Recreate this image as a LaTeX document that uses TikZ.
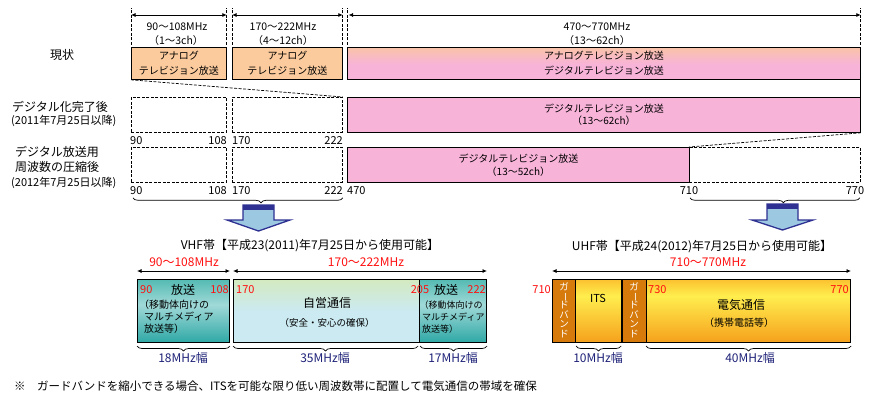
\documentclass[tikz,border=0pt]{standalone}
\usepackage{fontspec}
\setmainfont{Noto Sans CJK JP}
\usepackage{graphicx}
\usetikzlibrary{arrows.meta,decorations.pathreplacing}
\newcommand{\fz}[2]{\fontsize{#1}{#2}\selectfont}
\definecolor{peach}{HTML}{FBCB9D}
\definecolor{pinkc}{HTML}{F8B3D9}
\definecolor{peachtop}{HTML}{F9C3A8}
\definecolor{tealtop}{HTML}{55BBB3}
\definecolor{teallight}{HTML}{A0D9D8}
\definecolor{tealbot}{HTML}{2EA8A5}
\definecolor{grntop}{HTML}{D3EAC0}
\definecolor{cyanc}{HTML}{CBEAF1}
\definecolor{guard}{HTML}{D67A0C}
\definecolor{yortop}{HTML}{FBC230}
\definecolor{yl}{HTML}{FFEE4E}
\definecolor{orbot}{HTML}{F6A01C}
\definecolor{navy}{HTML}{2E3192}
\definecolor{lblue}{HTML}{9DC8E2}
\definecolor{txtnavy}{HTML}{1E2278}
\definecolor{redc}{HTML}{FF1010}
\pgfdeclareverticalshading{pinkshade}{100bp}{color(0bp)=(pinkc); color(25bp)=(pinkc); color(48bp)=(pinkc); color(75bp)=(peachtop); color(100bp)=(peachtop)}
\pgfdeclareverticalshading{tealshade}{100bp}{color(0bp)=(tealbot); color(25bp)=(tealbot); color(55bp)=(teallight); color(75bp)=(tealtop); color(100bp)=(tealtop)}
\pgfdeclareverticalshading{grnshade}{100bp}{color(0bp)=(cyanc); color(25bp)=(cyanc); color(50bp)=(cyanc); color(75bp)=(grntop); color(100bp)=(grntop)}
\pgfdeclareverticalshading{yelshade}{100bp}{color(0bp)=(orbot); color(25bp)=(orbot); color(62bp)=(yl); color(75bp)=(yortop); color(100bp)=(yortop)}
\begin{document}
\begin{tikzpicture}[x=1pt,y=-1pt,
  box/.style={draw=black, line width=0.8pt, inner sep=0pt, anchor=north west, align=center},
  dbox/.style={box, dash pattern=on 3pt off 1.5pt},
  bbox/.style={draw=black, line width=1pt, inner sep=0pt, anchor=north west},
  lbl/.style={inner sep=0pt, align=center},
  num/.style={inner sep=0pt, font=\fz{11}{13}},
  rtext/.style={inner sep=0pt, text=redc},
  ntext/.style={inner sep=0pt, text=txtnavy, font=\fz{12}{14}},
  dim/.style={line width=0.8pt, {Latex[length=4.5pt,width=4pt]}-{Latex[length=4.5pt,width=4pt]}},
  dline/.style={line width=0.7pt, dash pattern=on 3pt off 1.5pt},
  brc/.style={line width=0.7pt, decorate, decoration={brace, amplitude=5pt, #1}},
  brc/.default={aspect=0.5},
  bigarrow/.style={fill=lblue, draw=navy, line width=1.3pt, line join=miter},
  gtext/.style={inner sep=0pt, text=white, align=center, font=\fz{9.5}{9.4}, anchor=north}
  ]
\useasboundingbox (0,0) rectangle (875,404);
\fill[white] (0,0) rectangle (875,404);

% ---------- left labels ----------
\node[lbl, font=\fz{12}{14}] (lab1) at (62,55) {現状};
\node[lbl, font=\fz{12}{14}, anchor=west] (lab2) at (12,107) {デジタル化完了後};
\node[lbl, font=\fz{11}{13}, anchor=west] (lab2b) at (11,121) {(2011年7月25日以降)};
\node[lbl, font=\fz{12}{14}, anchor=west] (lab3) at (15,152) {デジタル放送用};
\node[lbl, font=\fz{12}{14}, anchor=west] (lab3b) at (15,167) {周波数の圧縮後};
\node[lbl, font=\fz{11}{13}, anchor=west] (lab3c) at (11,183) {(2012年7月25日以降)};

% ---------- row 1 ----------
\node[box, fill=peach, minimum width=95, minimum height=32, font=\fz{10}{14.5}] (b1) at (131,47) {アナログ\\テレビジョン放送};
\node[box, fill=peach, minimum width=110, minimum height=32, font=\fz{10}{14.5}] (b2) at (232,47) {アナログ\\テレビジョン放送};
\node[box, shade, shading=pinkshade, minimum width=513, minimum height=32, font=\fz{10}{15}] (b3) at (347,47) {アナログテレビジョン放送\\デジタルテレビジョン放送};

% ---------- row 2 ----------
\node[dbox, minimum width=95, minimum height=35] (d1) at (131,97) {};
\node[dbox, minimum width=110, minimum height=35] (d2) at (232,97) {};
\node[box, fill=pinkc, minimum width=513, minimum height=35, font=\fz{10}{12.5}] (p2) at (347,97) {デジタルテレビジョン放送\\（13～62ch）};

% ---------- row 3 ----------
\node[dbox, minimum width=95, minimum height=35] (d3) at (131,147) {};
\node[dbox, minimum width=110, minimum height=35] (d4) at (232,147) {};
\node[dbox, minimum width=171, minimum height=35] (e3) at (689,147) {};
\node[box, fill=pinkc, minimum width=342, minimum height=35, font=\fz{10}{13}] (p3) at (347,147) {デジタルテレビジョン放送\\（13～52ch）};

% ---------- top dimension ticks and arrows ----------
\foreach \n/\a in {b1/north west, b1/north east, b2/north west, b2/north east, b3/north west, b3/north east}
  \draw[dline] ([yshift=2pt]\n.\a) -- ([yshift=39pt]\n.\a);
\draw[dim] ([yshift=32pt]b1.north west) -- ([yshift=32pt]b1.north east);
\draw[dim] ([yshift=32pt]b2.north west) -- ([yshift=32pt]b2.north east);
\draw[dim] ([xshift=1.5pt,yshift=32pt]b3.north west) -- ([yshift=32pt]b3.north east);

\node[lbl, font=\fz{10.5}{12}] (r1a) at (177,27) {90～108MHz};
\node[lbl, font=\fz{10.5}{12}] (r1b) at (176,41) {（1～3ch）};
\node[lbl, font=\fz{10.5}{12}] (r2a) at (283,27) {170～222MHz};
\node[lbl, font=\fz{10.5}{12}] (r2b) at (283,41) {（4～12ch）};
\node[lbl, font=\fz{10.5}{12}] (r3a) at (597,27) {470～770MHz};
\node[lbl, font=\fz{10.5}{12}] (r3b) at (597,41) {（13～62ch）};

% ---------- connectors ----------
\draw[line width=0.8pt] (b3.south east) -- (p2.north east);
\draw[dline] (b1.south west) -- (d2.north east);
\draw[dline] (p2.south east) -- (e3.north west);

% ---------- numbers ----------
\node[num, anchor=west] (n1) at (130,141) {90};
\node[num, anchor=east] (n2) at (227,141) {108};
\node[num, anchor=west] (n3) at (232,141) {170};
\node[num, anchor=east] (n4) at (343,141) {222};
\node[num, anchor=west] (m1) at (130,191) {90};
\node[num, anchor=east] (m2) at (227,191) {108};
\node[num, anchor=west] (m3) at (232,191) {170};
\node[num, anchor=east] (m4) at (343,191) {222};
\node[num, anchor=west] (m5) at (347,191) {470};
\node[num] (m6) at (689,191) {710};
\node[num] (m7) at (855,191) {770};

% ---------- braces and big arrows ----------
\draw[brc={aspect=0.39}] ([yshift=-15pt]d4.south east) -- ([xshift=2pt,yshift=-15pt]d3.south west);
\draw[brc={aspect=0.45}] ([xshift=-1pt,yshift=-15pt]e3.south east) -- ([xshift=1pt,yshift=-15pt]e3.south west);

\path[bigarrow] (243,205) -- (274,205) -- (274,220) -- (290,220) -- (258.5,231) -- (227,220) -- (243,220) -- cycle;
\fill[navy] (243,205) rectangle (274,209.5);
\path[bigarrow] (767,204) -- (798,204) -- (798,220) -- (813,220) -- (782.5,230) -- (752,220) -- (767,220) -- cycle;
\fill[navy] (767,204) rectangle (798,208.5);

% ---------- VHF ----------
\node[lbl, font=\fz{12}{14}] (vhf) at (310,246) {VHF帯【平成23(2011)年7月25日から使用可能】};
\node[rtext, font=\fz{12}{14}] (vr1) at (184,262) {90～108MHz};
\node[rtext, font=\fz{12}{14}] (vr2) at (366,262) {170～222MHz};

\node[bbox, shade, shading=tealshade, minimum width=92, minimum height=63] (A) at (137,279) {};
\node[bbox, shade, shading=grnshade, minimum width=186, minimum height=63] (B) at (233,279) {};
\node[bbox, shade, shading=tealshade, minimum width=67, minimum height=63] (C) at (419,279) {};

\draw[dim] ([yshift=8pt]A.north west) -- ([yshift=8pt]A.north east);
\draw[dim] ([yshift=8pt]B.north west) -- ([yshift=8pt]C.north east);

\node[rtext, font=\fz{11}{13}, anchor=west] (a90) at (140,290) {90};
\node[lbl, font=\fz{12}{14}] (a1) at (183,290) {放送};
\node[rtext, font=\fz{11}{13}, anchor=east] (a108) at (229,290) {108};
\node[lbl, font=\fz{10}{12}, anchor=west] (a2) at (139,305) {（移動体向けの};
\node[lbl, font=\fz{10}{12}, anchor=west] (a3) at (144,317) {マルチメディア};
\node[lbl, font=\fz{10}{12}, anchor=west] (a4) at (144,329) {放送等）};

\node[rtext, font=\fz{11}{13}, anchor=west] (b170) at (236,290) {170};
\node[lbl, font=\fz{12}{14}] (bb1) at (327,303) {自営通信};
\node[lbl, font=\fz{9.5}{12}] (bb2) at (327,323) {（安全・安心の確保）};
\node[rtext, font=\fz{11}{13}] (b205) at (420,290) {205};

\node[lbl, font=\fz{12}{14}] (c1) at (446,290) {放送};
\node[rtext, font=\fz{11}{13}, anchor=east] (c222) at (486,290) {222};
\node[lbl, font=\fz{9}{11}, anchor=west] (c2) at (419.5,305) {（移動体向けの};
\node[lbl, font=\fz{9}{11}, anchor=west] (c3) at (422,317) {マルチメディア};
\node[lbl, font=\fz{9}{11}, anchor=west] (c4) at (422,329) {放送等）};

\draw[brc] ([yshift=-3pt]A.south east) -- ([yshift=-3pt]A.south west);
\draw[brc] ([xshift=-2pt,yshift=-3pt]B.south east) -- ([yshift=-3pt]B.south west);
\draw[brc] ([yshift=-3pt]C.south east) -- ([xshift=1pt,yshift=-3pt]C.south west);
\node[ntext] (w18) at (183,358) {18MHz幅};
\node[ntext] (w35) at (325,358) {35MHz幅};
\node[ntext] (w17) at (453,358) {17MHz幅};

% ---------- UHF ----------
\node[lbl, font=\fz{12}{14}] (uhf) at (702,247) {UHF帯【平成24(2012)年7月25日から使用可能】};
\node[rtext, font=\fz{12}{14}] (ur) at (708,262) {710～770MHz};

\node[bbox, fill=guard, minimum width=23, minimum height=63] (g1) at (552,279) {};
\node[bbox, shade, shading=yelshade, minimum width=46, minimum height=63] (its) at (575,279) {};
\node[bbox, fill=guard, minimum width=25, minimum height=63] (g2) at (621,279) {};
\node[bbox, shade, shading=yelshade, minimum width=204, minimum height=63] (tel) at (646,279) {};
\draw[line width=2pt] (its.north east) -- (its.south east);

\draw[dim] ([yshift=8pt]g1.north west) -- ([yshift=8pt]tel.north east);

\node[gtext] (gt1) at ([yshift=-3pt]g1.north) {ガ\\\raisebox{0pt}[7.5pt][0pt]{\rotatebox[origin=c]{-90}{ー}}\\ド\\バ\\ン\\ド};
\node[gtext] (gt2) at ([yshift=-3pt]g2.north) {ガ\\\raisebox{0pt}[7.5pt][0pt]{\rotatebox[origin=c]{-90}{ー}}\\ド\\バ\\ン\\ド};

\node[rtext, font=\fz{11}{13}, anchor=east] (u710) at (551,290) {710};
\node[lbl, font=\fz{11}{13}] (itst) at (598,298) {ITS};
\node[rtext, font=\fz{11}{13}, anchor=west] (u730) at (648,290) {730};
\node[rtext, font=\fz{11}{13}, anchor=east] (u770) at (849,290) {770};
\node[lbl, font=\fz{12}{14}] (tl1) at (741,305) {電気通信};
\node[lbl, font=\fz{10}{12}] (tl2) at (739,323) {（携帯電話等）};

\draw[brc] ([xshift=-1pt,yshift=-3pt]its.south east) -- ([xshift=1pt,yshift=-3pt]its.south west);
\draw[brc] ([yshift=-3pt]tel.south east) -- ([yshift=-3pt]tel.south west);
\node[ntext] (w10) at (598,358) {10MHz幅};
\node[ntext] (w40) at (750,358) {40MHz幅};

% ---------- note ----------
\node[lbl, font=\fz{11.5}{13}, anchor=west] (note0) at (14,386) {※};
\node[lbl, font=\fz{11.5}{13}, anchor=west] (note) at (37,386) {ガードバンドを縮小できる場合、ITSを可能な限り低い周波数帯に配置して電気通信の帯域を確保};
\end{tikzpicture}
\end{document}
